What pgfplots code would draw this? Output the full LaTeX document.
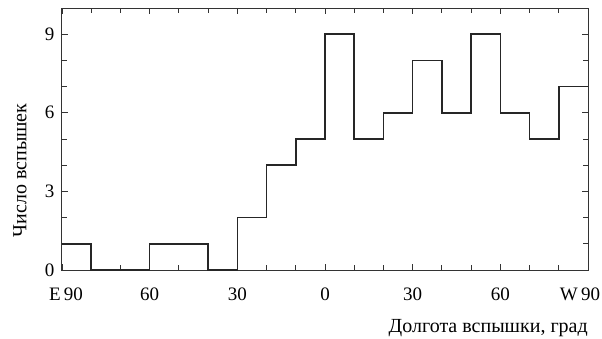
\documentclass[border=0pt]{standalone}
\usepackage{pgfplots}
\pgfplotsset{compat=1.18}
\usepackage{fontspec}
\setmainfont{Liberation Serif}
\begin{document}
\begin{tikzpicture}
\begin{axis}[
  scale only axis,
  width=526pt, height=262pt,
  xmin=-90, xmax=90, ymin=0, ymax=10,
  xtick={-90,-60,-30,0,30,60,90},
  xticklabels={\makebox[0pt][c]{\hspace{8pt}E\,90},60,30,0,30,60,\makebox[0pt][c]{W\,90\hspace{16pt}}},
  minor xtick={-80,-70,-50,-40,-20,-10,10,20,40,50,70,80},
  ytick={0,3,6,9},
  yticklabels={0,3,6,9},
  minor ytick={1,2,4,5,7,8},
  tick align=inside,
  major tick length=6pt,
  minor tick length=5pt,
  tick style={line width=0.8pt, black!80},
  axis line style={line width=1pt, black!80},
  ticklabel style={font=\fontsize{19}{22}\selectfont},
  xticklabel style={yshift=-14pt},
  yticklabel style={xshift=-4pt},
  xlabel={Долгота вспышки, град},
  ylabel={Число вспышек},
  label style={font=\fontsize{20}{24}\selectfont},
  xlabel style={at={(axis description cs:1,0)}, anchor=north east, yshift=-49pt, inner sep=0pt},
  ylabel style={at={(axis description cs:0,0.38)}, anchor=center, yshift=42pt},
]
\addplot[const plot mark left, line width=1.6pt, black!85] coordinates {
(-90,1) (-80,0) (-70,0) (-60,1) (-50,1) (-40,0) (-30,2) (-20,4) (-10,5)
(0,9) (10,5) (20,6) (30,8) (40,6) (50,9) (60,6) (70,5) (80,7) (90,7)
};
\coordinate (sw) at (rel axis cs:0,0);
\coordinate (ne) at (rel axis cs:1,1);
\end{axis}
\pgfresetboundingbox
\path (sw) ++(-62pt,-68pt) coordinate (a);
\path (ne) ++(14pt,8pt) coordinate (b);
\path[use as bounding box] (a) rectangle (b);
\end{tikzpicture}
\end{document}
